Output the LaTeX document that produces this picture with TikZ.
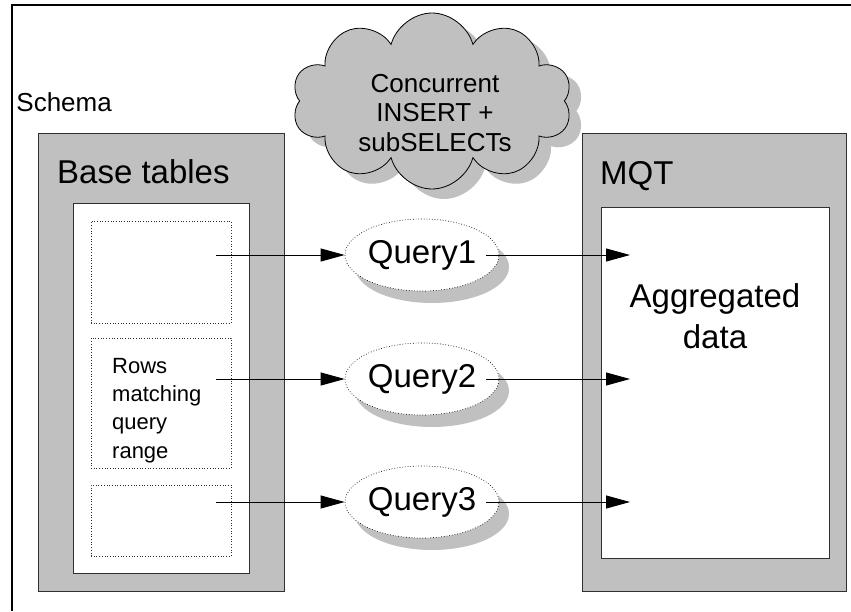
\documentclass[tikz,border=0pt]{standalone}
\usepackage{fontspec}
\setmainfont{Liberation Sans}
\usetikzlibrary{positioning,shapes.geometric,shapes.symbols,shadows,arrows.meta}

\definecolor{boxgray}{HTML}{C0C0C0}
\definecolor{edgegray}{HTML}{303030}

\begin{document}
\begin{tikzpicture}[x=1pt, y=-1pt,
    panel/.style={draw=edgegray, fill=boxgray, line width=0.9pt, anchor=north west, inner sep=0pt, outer sep=0pt},
    sheet/.style={draw=edgegray, fill=white, line width=0.9pt, anchor=north west, inner sep=0pt, outer sep=0pt},
    rowbox/.style={draw=edgegray, dotted, line width=0.7pt, anchor=north west, inner sep=0pt, outer sep=0pt, minimum width=140},
    bigtext/.style={font=\fontsize{33}{41}\selectfont, inner sep=0pt},
    midtext/.style={font=\fontsize{26}{29.5}\selectfont, inner sep=0pt},
    query/.style={ellipse, draw=black, dotted, line width=0.7pt, fill=white, minimum width=154, minimum height=72, inner sep=0pt,
        font=\fontsize{33}{40}\selectfont,
        drop shadow={shadow xshift=10pt, shadow yshift=-12pt, fill=boxgray, opacity=1}},
    flow/.style={-{Triangle[length=24pt, width=13pt]}, line width=0.9pt, draw=black}
]

    \useasboundingbox (0,0) rectangle (851,611);

    % Outer frame
    \draw[line width=2.5pt] (12,611) |- (851,5);

    \node[midtext, anchor=base east] (schema) at (112,111) {Schema};

    % Base tables
    \node[panel, minimum width=246, minimum height=458] (base) at (38,133) {};
    \node[sheet, minimum width=176, minimum height=370] (basesheet) at (73,203) {};
    \node[bigtext, anchor=base west] (basetitle) at (57,183) {Base tables};

    \node[rowbox, minimum height=102] (rows1) at (91,221) {};
    \node[rowbox, minimum height=130] (rows2) at (91,338) {};
    \node[rowbox, minimum height=71] (rows3) at (91,485) {};
    \node[anchor=north west, inner sep=0pt, align=left, font=\fontsize{22}{28.3}\selectfont] (rowstext) at (112,358) {Rows\\matching\\query\\range};

    % MQT
    \node[panel, minimum width=264, minimum height=458] (mqt) at (582,133) {};
    \node[sheet, minimum width=228, minimum height=351] (mqtsheet) at (601,207) {};
    \node[bigtext, anchor=base west] (mqttitle) at (600,184) {MQT};
    \node[bigtext, anchor=north, align=center] (aggr) at (715,283) {Aggregated\\data};

    % Cloud
    \node[cloud, cloud puffs=10, cloud ignores aspect, draw=black, line width=0.8pt, fill=boxgray,
        minimum width=280, minimum height=176, inner sep=0pt,
        drop shadow={shadow xshift=12pt, shadow yshift=-10pt, fill=boxgray, opacity=1}] (cloud) at (432,101) {};
    \node[midtext, anchor=north, align=center] (cloudtext) at (435,74) {Concurrent\\INSERT +\\subSELECTs};

    % Queries
    \node[query] (q1) at (422,255) {Query1};
    \node[query] (q2) at (422,379) {Query2};
    \node[query] (q3) at (422,502) {Query3};

    % Line ends
    \coordinate (src1) at (216,255);
    \coordinate (src2) at (216,379);
    \coordinate (src3) at (216,502);
    \coordinate (dst1) at (630,255);
    \coordinate (dst2) at (630,379);
    \coordinate (dst3) at (630,502);

    % Connections
    \draw[flow] (src1) -- (q1.west);
    \draw[flow] (src2) -- (q2.west);
    \draw[flow] (src3) -- (q3.west);
    \draw[flow] ([xshift=64pt]q1.center) -- (dst1);
    \draw[flow] ([xshift=64pt]q2.center) -- (dst2);
    \draw[flow] ([xshift=64pt]q3.center) -- (dst3);

\end{tikzpicture}
\end{document}
